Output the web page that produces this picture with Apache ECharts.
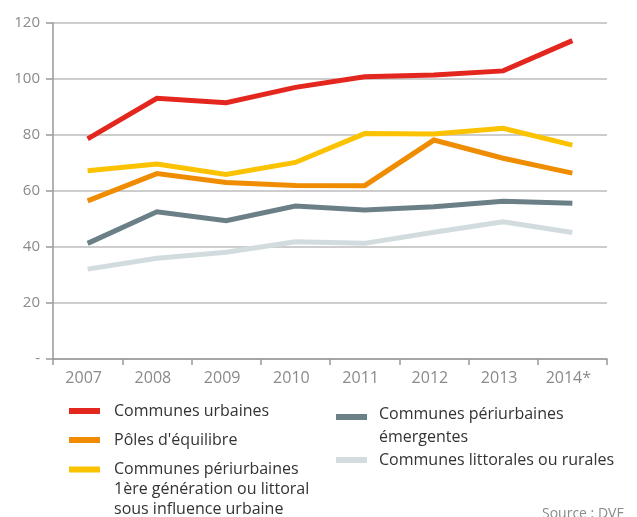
<!DOCTYPE html>
<html>
<head>
<meta charset="utf-8">
<script src="https://cdn.jsdelivr.net/npm/echarts@6/dist/echarts.min.js"></script>
<style>
  html, body { margin: 0; padding: 0; background: #fff; }
  #chart { width: 637px; height: 517px; }
</style>
</head>
<body>
<div id="chart"></div>
<script>
// Years on the horizontal axis
const years = ['2007', '2008', '2009', '2010', '2011', '2012', '2013', '2014*'];

// Yearly values per type of commune
const communesUrbaines   = [78.6, 93.1, 91.5, 97.0, 100.8, 101.4, 102.9, 113.7];
const polesEquilibre     = [56.5, 66.2, 63.0, 62.0, 61.9, 78.2, 71.7, 66.4];
const periurbaines1ere   = [67.2, 69.6, 65.9, 70.2, 80.5, 80.4, 82.4, 76.4];
const periurbainesEmerg  = [41.3, 52.6, 49.4, 54.6, 53.2, 54.4, 56.3, 55.6];
const littoralesRurales  = [32.1, 36.0, 38.1, 41.9, 41.3, 45.3, 49.0, 45.2];

// Vertical axis ticks
const yTicks = [0, 20, 40, 60, 80, 100, 120];

const names = {
  urb: 'Communes urbaines',
  pol: "Pôles d'équilibre",
  per: 'Communes périurbaines\n1ère génération ou littoral\nsous influence urbaine',
  emg: 'Communes périurbaines\némergentes',
  lit: 'Communes littorales ou rurales'
};

const colors = {
  urb: '#E3261E',
  pol: '#F08C00',
  per: '#FBC200',
  emg: '#6B7F87',
  lit: '#D2DCDE'
};

const FONT = '"Open Sans", "Noto Sans", sans-serif';
const axisGray = '#8a8a8a';

function line(key, data) {
  return {
    name: names[key],
    type: 'line',
    data: data,
    symbol: 'none',
    smooth: false,
    lineStyle: { color: colors[key], width: 5, cap: 'butt', join: 'miter' },
    itemStyle: { color: colors[key] },
    emphasis: { disabled: true },
    silent: true
  };
}

// Swatch icon; an extra invisible point lower down stretches the icon box
// so the swatch sits level with the first line of a multi-line label.
function swatchIcon(boxHeight) {
  return boxHeight ? 'path://M0,0H31V6H0Z M0,' + boxHeight + 'L0.01,' + boxHeight : 'rect';
}

function legendItem(key, left, top, boxHeight, lineHeight, padLeft) {
  return {
    show: true,
    data: [{ name: names[key], icon: swatchIcon(boxHeight) }],
    left: left,
    top: top,
    orient: 'vertical',
    itemWidth: 31,
    itemHeight: boxHeight || 6,
    itemGap: 0,
    padding: 0,
    selectedMode: false,
    itemStyle: { borderWidth: 0 },
    textStyle: {
      fontFamily: FONT,
      fontSize: 16,
      color: '#333',
      lineHeight: lineHeight,
      padding: [0, 0, 0, padLeft]
    }
  };
}

const chart = echarts.init(document.getElementById('chart'), null, { renderer: 'canvas' });

chart.setOption({
  animation: false,
  backgroundColor: '#fff',
  grid: { left: 53, right: 30, top: 23, bottom: 158, containLabel: false },
  xAxis: {
    type: 'category',
    data: years,
    boundaryGap: true,
    axisLine: { show: true, lineStyle: { color: '#999', width: 1.5 } },
    axisTick: { show: true, length: 6, alignWithLabel: false, lineStyle: { color: '#999', width: 1.5 } },
    axisLabel: {
      color: axisGray,
      fontFamily: FONT,
      fontSize: 16,
      margin: 11,
      padding: [0, 8, 0, 0]
    },
    splitLine: { show: false }
  },
  yAxis: {
    type: 'value',
    min: yTicks[0],
    max: yTicks[yTicks.length - 1],
    interval: 20,
    axisLine: { show: true, lineStyle: { color: '#999', width: 1.5 } },
    axisTick: { show: true, length: 7, lineStyle: { color: '#999', width: 1.5 } },
    axisLabel: {
      color: axisGray,
      fontFamily: FONT,
      fontSize: 15,
      margin: 13,
      formatter: function (v) { return v === 0 ? '-' : String(v); }
    },
    splitLine: { show: true, lineStyle: { color: '#bdbdbd', width: 1.5 } }
  },
  legend: [
    legendItem('urb', 69, 401, 0, 20, 9),
    legendItem('pol', 69, 430, 0, 20, 9),
    legendItem('per', 69, 459.5, 46, 20, 9),
    legendItem('emg', 336, 402.5, 23, 23, 7),
    legendItem('lit', 336, 450, 0, 20, 7)
  ],
  graphic: [{
    type: 'text',
    left: 542,
    top: 507,
    style: {
      text: 'Source : DVF',
      fontFamily: FONT,
      fontSize: 14,
      fill: '#8a8a8a'
    },
    silent: true
  }],
  series: [
    line('lit', littoralesRurales),
    line('emg', periurbainesEmerg),
    line('pol', polesEquilibre),
    line('per', periurbaines1ere),
    line('urb', communesUrbaines)
  ]
});
</script>
</body>
</html>
